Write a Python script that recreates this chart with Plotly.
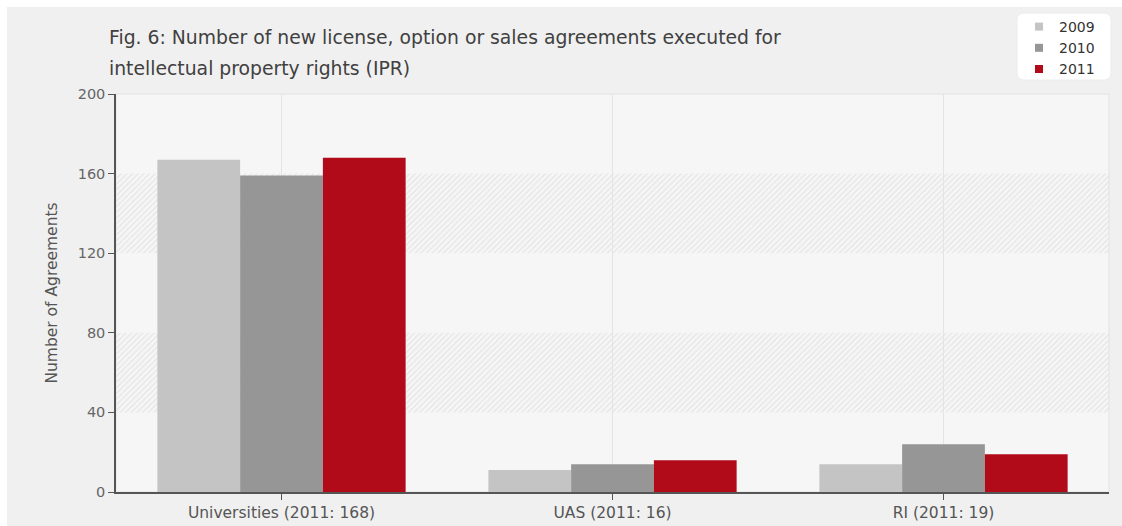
import plotly.graph_objects as go

# Agreements per institution type and year
categories = ["Universities (2011: 168)", "UAS (2011: 16)", "RI (2011: 19)"]
years = ["2009", "2010", "2011"]
agreements_2009 = [167, 11, 14]
agreements_2010 = [159, 14, 24]
agreements_2011 = [168, 16, 19]
y_ticks = [0, 40, 80, 120, 160, 200]

series = [agreements_2009, agreements_2010, agreements_2011]
colors = ["#c4c4c4", "#969696", "#b10a19"]

W, H = 1122, 526
L, R, T, B = 116, 13, 94, 34
PW, PH = W - L - R, H - T - B


def px_x(px):
    return (px - L) / PW


def px_y(py):
    return (H - B - py) / PH


FONT = "DejaVu Sans"
fig = go.Figure()

# hatched background bands between alternate y ticks
band_base = [y_ticks[1], y_ticks[3]]
band_height = [y_ticks[2] - y_ticks[1], y_ticks[4] - y_ticks[3]]
fig.add_trace(go.Bar(
    x=[categories[0]] * len(band_base), y=band_height, base=band_base,
    width=len(categories), offset=-0.5,
    marker=dict(color="rgba(0,0,0,0)", line=dict(width=0),
                pattern=dict(shape="/", size=4, solidity=0.3,
                             fgcolor="#e4e4e4", bgcolor="rgba(0,0,0,0)",
                             fillmode="replace")),
    showlegend=False, hoverinfo="skip",
))

for yr, vals, col in zip(years, series, colors):
    fig.add_trace(go.Bar(
        x=categories, y=vals, name=yr, marker=dict(color=col, line=dict(width=0)),
        showlegend=False,
    ))
    # small square legend swatch
    fig.add_trace(go.Scatter(
        x=[None], y=[None], mode="markers", name=yr,
        marker=dict(symbol="square", size=8, color=col),
    ))

shapes = []
# grey card behind the chart with a thin white margin on top and left
shapes.append(dict(type="rect", xref="paper", yref="paper", layer="below",
                   x0=px_x(7), x1=px_x(W + 2), y0=px_y(H + 2), y1=px_y(7),
                   fillcolor="#f0f0f0", line=dict(width=0)))
# plot area frame
shapes.append(dict(type="rect", xref="paper", yref="paper", layer="below",
                   x0=0, x1=1, y0=0, y1=1, fillcolor="#f6f6f6",
                   line=dict(color="#e2e2e2", width=1)))
# rounded legend box
lx0, lx1, ly0, ly1 = px_x(1017), px_x(1111), px_y(80), px_y(13)
rx, ry = 7 / PW, 7 / PH
path = (f"M{lx0 + rx},{ly1} L{lx1 - rx},{ly1} Q{lx1},{ly1} {lx1},{ly1 - ry} "
        f"L{lx1},{ly0 + ry} Q{lx1},{ly0} {lx1 - rx},{ly0} "
        f"L{lx0 + rx},{ly0} Q{lx0},{ly0} {lx0},{ly0 + ry} "
        f"L{lx0},{ly1 - ry} Q{lx0},{ly1} {lx0 + rx},{ly1} Z")
shapes.append(dict(type="path", xref="paper", yref="paper", path=path,
                   fillcolor="#ffffff", line=dict(color="#ececec", width=1),
                   layer="below"))

TITLE_SIZE = 18.8
annotations = [
    dict(text="Fig. 6: Number of new license, option or sales agreements executed for",
         xref="paper", yref="paper", x=px_x(107), y=px_y(37),
         xanchor="left", yanchor="middle", showarrow=False,
         font=dict(family=FONT, size=TITLE_SIZE, color="#404040")),
    dict(text="intellectual property rights (IPR)",
         xref="paper", yref="paper", x=px_x(107), y=px_y(68),
         xanchor="left", yanchor="middle", showarrow=False,
         font=dict(family=FONT, size=TITLE_SIZE, color="#404040")),
]

fig.update_layout(
    width=W, height=H,
    margin=dict(l=L, r=R, t=T, b=B, pad=0, autoexpand=False),
    paper_bgcolor="#ffffff",
    plot_bgcolor="rgba(0,0,0,0)",
    barmode="group",
    bargap=0.25,
    bargroupgap=0,
    font=dict(family=FONT, size=14, color="#555555"),
    shapes=shapes,
    annotations=annotations,
    legend=dict(x=px_x(1019), y=px_y(11), xanchor="left", yanchor="top",
                bgcolor="rgba(0,0,0,0)", borderwidth=0,
                font=dict(family=FONT, size=14, color="#333333"),
                itemwidth=30, tracegroupgap=0),
    xaxis=dict(type="category", range=[-0.5, 2.5], automargin=False,
               showgrid=True, gridcolor="#e4e4e4", gridwidth=1,
               showline=True, linecolor="#555555", linewidth=1.5,
               ticks="outside", ticklen=6, tickcolor="#555555",
               tickfont=dict(family=FONT, size=15.5, color="#555555"),
               zeroline=False, fixedrange=True),
    yaxis=dict(range=[0, 200], tickvals=y_ticks, automargin=False,
               showgrid=False, zeroline=False,
               showline=True, linecolor="#555555", linewidth=1.5,
               ticks="outside", ticklen=6, tickcolor="#555555",
               tickfont=dict(family=FONT, size=14.5, color="#666666"),
               title=dict(text="Number of Agreements", standoff=16,
                          font=dict(family=FONT, size=15.5, color="#555555")),
               fixedrange=True),
)

fig.write_html("out.html")
